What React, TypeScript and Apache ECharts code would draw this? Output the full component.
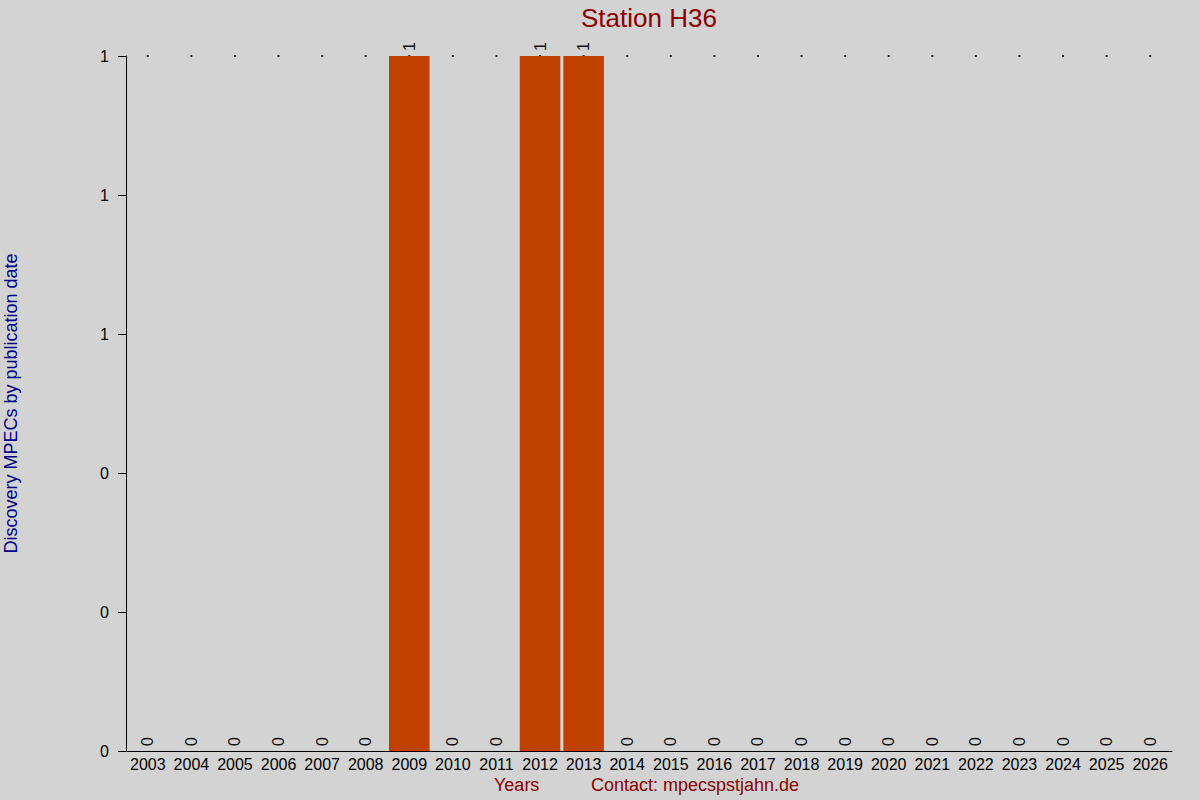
import React, { useEffect, useRef } from 'react';
import * as echarts from 'echarts';

const years = [
  '2003', '2004', '2005', '2006', '2007', '2008', '2009', '2010', '2011', '2012', '2013', '2014',
  '2015', '2016', '2017', '2018', '2019', '2020', '2021', '2022', '2023', '2024', '2025', '2026',
];
const mpecs = [0, 0, 0, 0, 0, 0, 1, 0, 0, 1, 1, 0, 0, 0, 0, 0, 0, 0, 0, 0, 0, 0, 0, 0];
const topDots = years.map(() => 1);

const FONT = 'Liberation Sans, Arial, sans-serif';

const App: React.FC = () => {
  const chartRef = useRef<HTMLDivElement>(null);

  useEffect(() => {
    if (!chartRef.current) return;
    const chart = echarts.init(chartRef.current, undefined, { renderer: 'svg' });

    const option = {
      animation: false,
      backgroundColor: '#d3d3d3',
      textStyle: { fontFamily: FONT },
      title: {
        text: 'Station H36',
        left: 576,
        top: 0,
        textStyle: { color: '#8b0000', fontSize: 26, fontWeight: 'normal', fontFamily: FONT },
      },
      grid: {
        left: 126,
        right: 28,
        top: 56,
        bottom: 49,
        containLabel: false,
        outerBoundsMode: 'none',
      },
      xAxis: {
        type: 'category',
        data: years,
        axisLine: { lineStyle: { color: '#000', width: 1 } },
        axisTick: { show: false },
        axisLabel: { color: '#000', fontSize: 16, margin: 5, interval: 0, fontFamily: FONT },
      },
      yAxis: {
        type: 'value',
        min: 0,
        max: 1,
        interval: 0.2,
        name: 'Discovery MPECs by publication date',
        nameLocation: 'middle',
        nameGap: 106,
        nameTextStyle: { color: '#00008b', fontSize: 18, fontFamily: FONT },
        axisLine: { show: true, lineStyle: { color: '#000', width: 1 } },
        axisTick: { show: true, length: 8, lineStyle: { color: '#000' } },
        splitLine: { show: false },
        axisLabel: {
          color: '#000',
          fontSize: 16,
          margin: 17,
          fontFamily: FONT,
          formatter: (v: number) => String(Math.round(v)),
        },
      },
      series: [
        {
          type: 'scatter',
          data: topDots,
          symbol: 'rect',
          symbolSize: 2,
          itemStyle: { color: '#000' },
          silent: true,
          z: 1,
        },
        {
          type: 'bar',
          data: mpecs,
          barCategoryGap: '7%',
          itemStyle: { color: '#c04000' },
          z: 2,
          label: {
            show: true,
            position: 'top',
            rotate: 90,
            align: 'left',
            verticalAlign: 'middle',
            distance: 5,
            color: '#111',
            fontSize: 16,
            fontFamily: FONT,
          },
        },
      ],
      graphic: [
        {
          type: 'text',
          left: 494,
          top: 776,
          style: { text: 'Years', fill: '#8b0000', fontSize: 18, fontFamily: FONT },
        },
        {
          type: 'text',
          left: 591,
          top: 776,
          style: { text: 'Contact: mpecspstjahn.de', fill: '#8b0000', fontSize: 18, fontFamily: FONT },
        },
      ],
    };

    chart.setOption(option);
    return () => {
      chart.dispose();
    };
  }, []);

  return (
    <div
      ref={chartRef}
      style={{ position: 'fixed', top: 0, left: 0, width: 1200, height: 800 }}
    />
  );
};

export default App;
